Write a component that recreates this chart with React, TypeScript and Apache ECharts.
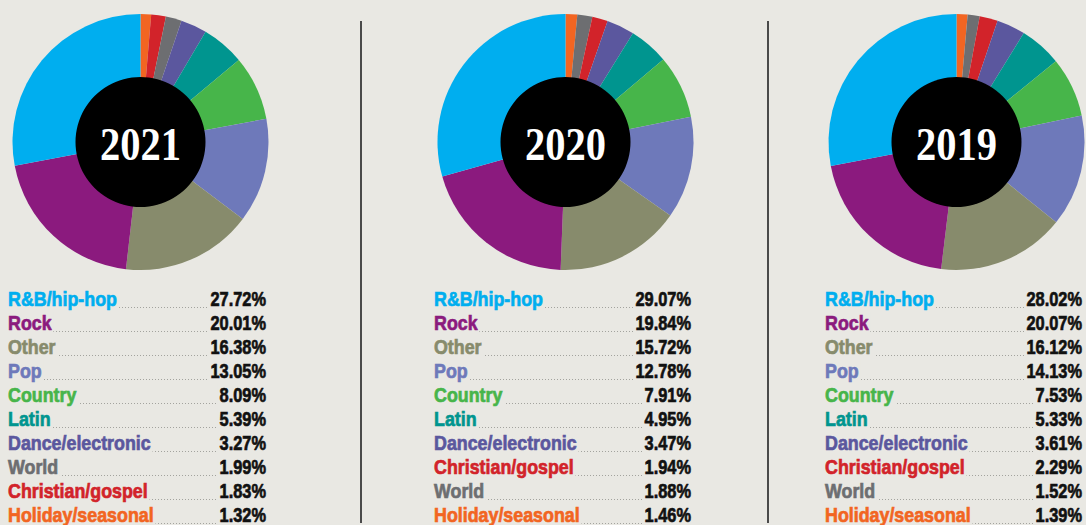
import React, { useEffect, useRef } from "react";
import * as echarts from "echarts";

const genres = ["R&B/hip-hop", "Rock", "Other", "Pop", "Country", "Latin", "Dance/electronic", "World", "Christian/gospel", "Holiday/seasonal"];
const genreColors = ["#00aeef", "#8b1a7e", "#878b6c", "#6e79ba", "#47b54a", "#00958f", "#5b579e", "#6d6e71", "#d2232a", "#f26522"];
const years = ["2021", "2020", "2019"];
const values2021 = [27.72, 20.01, 16.38, 13.05, 8.09, 5.39, 3.27, 1.99, 1.83, 1.32];
const values2020 = [29.07, 19.84, 15.72, 12.78, 7.91, 4.95, 3.47, 1.88, 1.94, 1.46];
const values2019 = [28.02, 20.07, 16.12, 14.13, 7.53, 5.33, 3.61, 1.52, 2.29, 1.39];
const yearValues = [values2021, values2020, values2019];

const BG = "#e9e8e3";
const centersX = [140.5, 565.5, 956.5];
const listLeft = [8, 434, 825];
const listRight = [266, 691, 1082];
const dividersX = [361, 768];
const FONT = "'Liberation Sans', Arial, sans-serif";
const SERIF = "'Liberation Serif', 'Times New Roman', serif";

export default function App() {
  const ref = useRef<HTMLDivElement>(null);
  useEffect(() => {
    document.body.style.margin = "0";
    const chart = echarts.init(ref.current!, null, { renderer: "svg" });
    const series: any[] = [];
    const graphics: any[] = [];
    years.forEach((yr, k) => {
      const vals = yearValues[k];
      const items = genres.map((g, i) => ({ name: g, value: vals[i], itemStyle: { color: genreColors[i] } }));
      const asc = [...items].sort((a, b) => a.value - b.value);
      series.push({
        type: "pie",
        center: [centersX[k], 142],
        radius: [0, 128],
        startAngle: 90,
        clockwise: true,
        silent: true,
        label: { show: false },
        labelLine: { show: false },
        data: asc,
      });
      series.push({
        type: "pie",
        center: [centersX[k], 142],
        radius: [0, 65],
        silent: true,
        label: { show: false },
        labelLine: { show: false },
        data: [{ name: yr, value: 1, itemStyle: { color: "#000000" } }],
      });
      graphics.push({
        type: "text",
        x: centersX[k],
        y: 144,
        scaleX: 0.88,
        z: 100,
        style: {
          text: yr,
          fill: "#ffffff",
          font: `bold 46px ${SERIF}`,
          align: "center",
          verticalAlign: "middle",
        },
        silent: true,
      });
      const desc = [...items].sort((a, b) => b.value - a.value);
      desc.forEach((it, r) => {
        const base = 306 + r * 24;
        graphics.push({
          type: "line",
          shape: { x1: listLeft[k], y1: base + 1.5, x2: listRight[k], y2: base + 1.5 },
          style: { stroke: "#a3a39e", lineWidth: 1, lineDash: [1, 2] },
          silent: true,
        });
        graphics.push({
          type: "text",
          x: listLeft[k],
          y: base - 7.5,
          scaleX: 0.85,
          style: {
            text: it.name,
            fill: it.itemStyle.color,
            stroke: it.itemStyle.color,
            lineWidth: 0.7,
            font: `bold 21px ${FONT}`,
            align: "left",
            verticalAlign: "middle",
            backgroundColor: BG,
            padding: [0, 2, 0, 0],
          },
          silent: true,
        });
        graphics.push({
          type: "text",
          x: listRight[k],
          y: base - 7.5,
          scaleX: 0.78,
          style: {
            text: it.value.toFixed(2) + "%",
            fill: "#111111",
            stroke: "#111111",
            lineWidth: 0.7,
            font: `bold 21px ${FONT}`,
            align: "right",
            verticalAlign: "middle",
            backgroundColor: BG,
            padding: [0, 0, 0, 3],
          },
          silent: true,
        });
      });
    });
    dividersX.forEach((x) => {
      graphics.push({
        type: "line",
        shape: { x1: x, y1: 21, x2: x, y2: 523 },
        style: { stroke: "#4a4a4a", lineWidth: 2 },
        silent: true,
      });
    });
    chart.setOption({
      animation: false,
      backgroundColor: BG,
      series,
      graphic: graphics,
    });
    return () => chart.dispose();
  }, []);
  return <div ref={ref} style={{ width: 1086, height: 525 }} />;
}
